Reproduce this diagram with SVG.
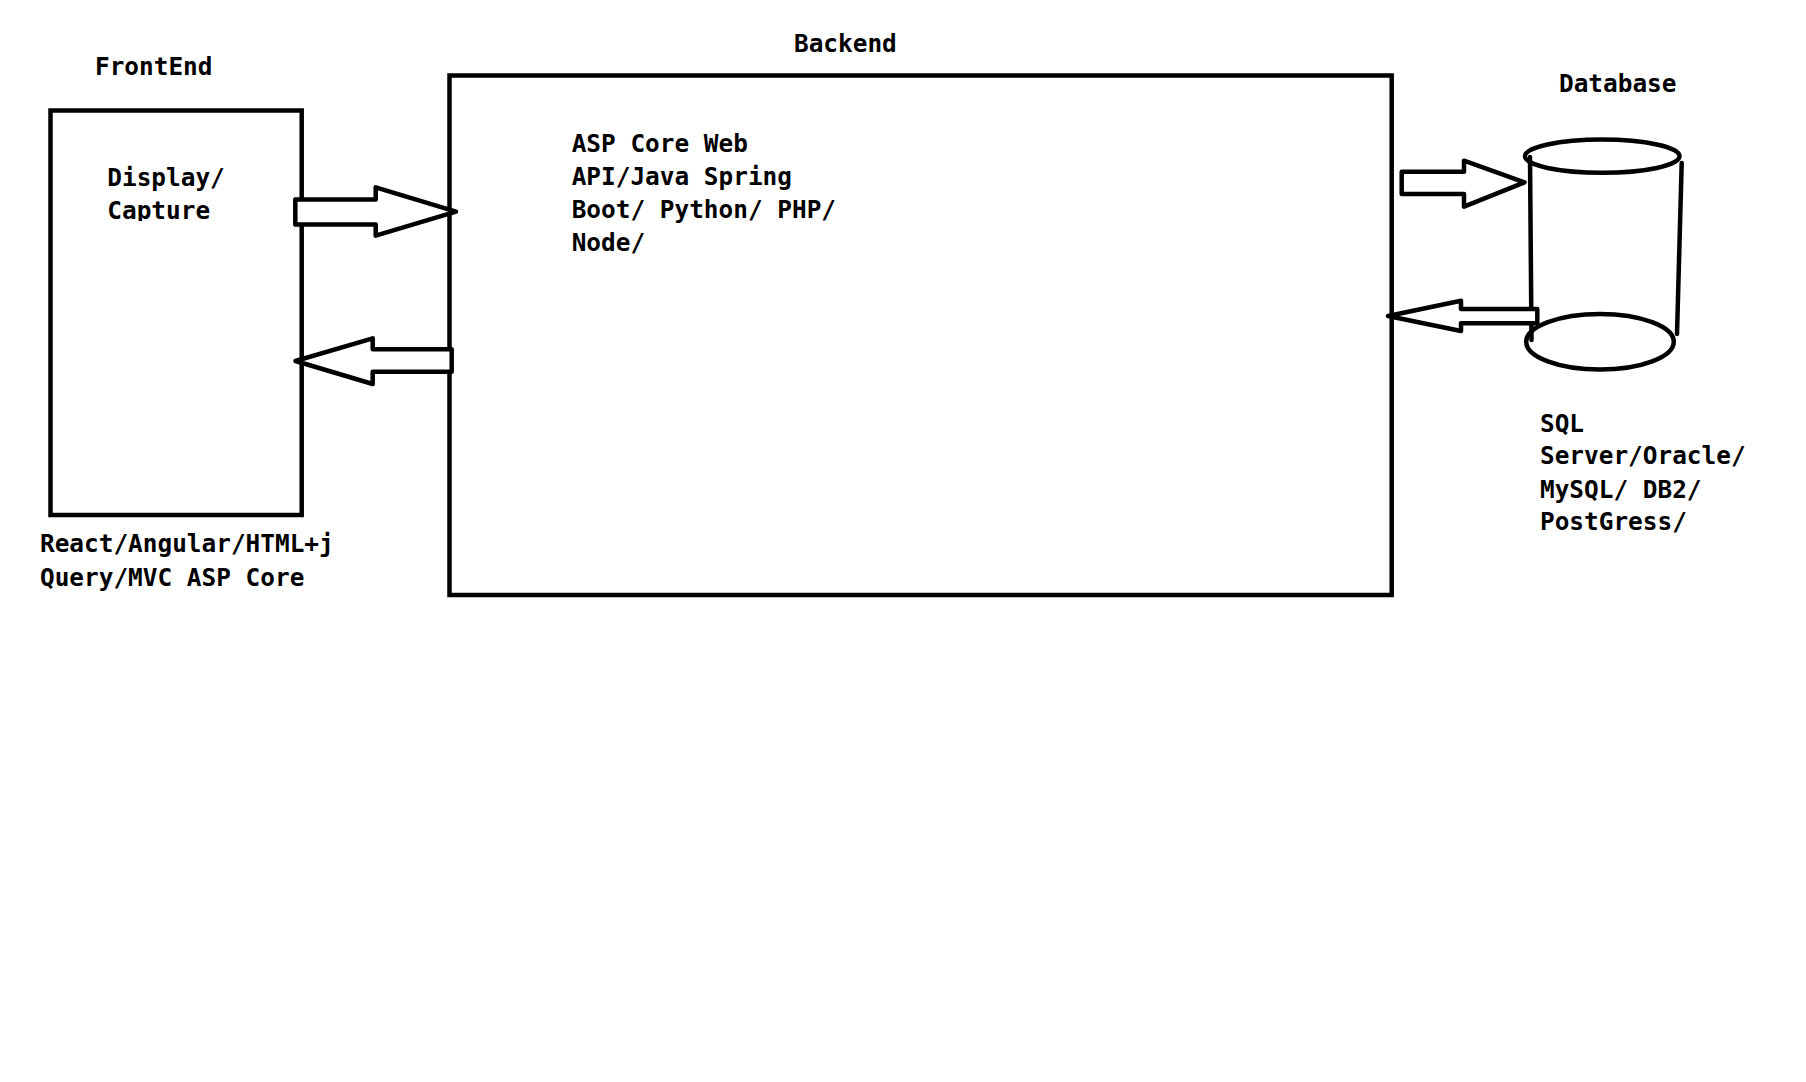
<svg xmlns="http://www.w3.org/2000/svg" width="1806" height="1082" viewBox="0 0 1806 1082">
<style>
  .t { font-family: "DejaVu Sans Mono", "Liberation Mono", monospace; font-weight: bold; font-size: 24.4px; fill: #000; }
  .box { fill: none; stroke: #000; stroke-width: 4.5; }
  .arrow { fill: #fff; stroke: #000; stroke-width: 4.5; stroke-linejoin: round; }
  .db { fill: none; stroke: #000; stroke-width: 4.5; stroke-linecap: round; }
</style>
<defs>
  <clipPath id="clipCapture"><rect x="0" y="190" width="400" height="31"/></clipPath>
</defs>
<rect x="0" y="0" width="1806" height="1082" fill="#fff"/>

<g id="frontend">
  <text class="t" x="95" y="75">FrontEnd</text>
  <rect class="box" x="50.5" y="110.5" width="251.2" height="404.5"/>
  <text class="t" x="107.3" y="185.7">Display/</text>
  <text class="t" x="107.3" y="219" clip-path="url(#clipCapture)">Capture</text>
  <text class="t" x="40" y="552.3">React/Angular/HTML+j</text>
  <text class="t" x="40" y="585.7">Query/MVC ASP Core</text>
</g>

<g id="backend">
  <text class="t" x="794" y="51.7">Backend</text>
  <rect class="box" x="449.5" y="75.5" width="942.2" height="519.5"/>
  <text class="t" x="571.7" y="151.7">ASP Core Web</text>
  <text class="t" x="571.7" y="185">API/Java Spring</text>
  <text class="t" x="571.7" y="217.8">Boot/ Python/ PHP/</text>
  <text class="t" x="571.7" y="250.7">Node/</text>
</g>

<g id="database">
  <text class="t" x="1559" y="92.3">Database</text>
  <ellipse class="db" cx="1602.2" cy="156.2" rx="77.3" ry="16.6"/>
  <line class="db" x1="1530" y1="157" x2="1531.5" y2="340"/>
  <line class="db" x1="1681.7" y1="163" x2="1677" y2="334"/>
  <ellipse class="db" cx="1600" cy="341.7" rx="73.8" ry="27.8"/>
  <text class="t" x="1540" y="431.7">SQL</text>
  <text class="t" x="1540" y="464.3">Server/Oracle/</text>
  <text class="t" x="1540" y="497.7">MySQL/ DB2/</text>
  <text class="t" x="1540" y="530">PostGress/</text>
</g>

<g id="connectors">
  <polygon class="arrow" points="295.3,199.5 375.7,199.5 375.7,187.3 456,211.7 375.7,235.7 375.7,224.5 295.3,224.5"/>
  <polygon class="arrow" points="451.7,349.3 372.7,349.3 372.7,338.3 295.5,361 372.7,384 372.7,371.7 451.7,371.7"/>
  <polygon class="arrow" points="1401.7,171.7 1464,171.7 1464,160.7 1524.5,182.3 1464,206.7 1464,194 1401.7,194"/>
  <polygon class="arrow" points="1537.3,309 1461,309 1461,300.7 1388,316 1461,331 1461,323.3 1537.3,323.3"/>
</g>
</svg>
